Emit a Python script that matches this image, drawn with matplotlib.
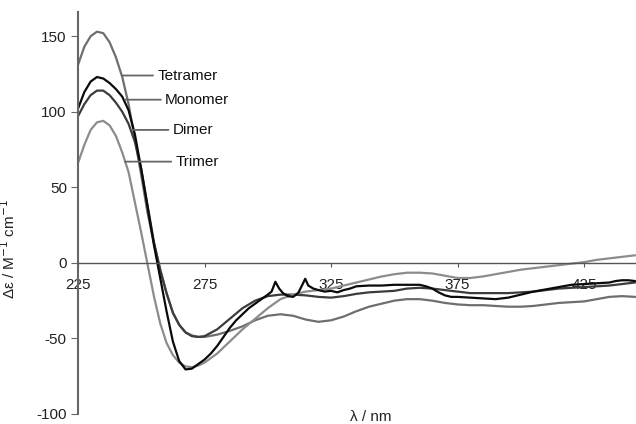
#!/usr/bin/env python3

# CD spectra of the four aggregates.
import matplotlib
matplotlib.use('Agg')
import matplotlib.pyplot as plt

plt.rcParams['font.family'] = ['Liberation Sans', 'DejaVu Sans']
plt.rcParams['axes.unicode_minus'] = False

# Common wavelength grid (nm) for the smooth curves
wl = [225, 227.5, 230, 232.5, 235, 237.5, 240, 242.5, 245, 247.5,
      250, 252.5, 255, 257.5, 260, 262.5, 265, 267.5, 270, 272.5,
      275, 280, 285, 290, 295, 300, 305, 310, 315, 320,
      325, 330, 335, 340, 345, 350, 355, 360, 365, 370,
      375, 380, 385, 390, 395, 400, 405, 410, 415, 420,
      425, 430, 435, 440, 445]

tetramer = [131, 143, 150, 153, 152, 146, 136, 123, 105, 82,
            58, 33, 13, -4, -20, -33, -41, -46, -48, -49,
            -49, -47.5, -45, -42, -38, -35, -34, -35, -37.5, -39,
            -38, -35.5, -32, -29, -27, -25, -24, -24, -25, -26.5,
            -27.5, -28, -28, -28.5, -29, -29, -28.5, -27.5, -26.5, -26,
            -25.5, -24, -22.5, -22, -22.5]

dimer = [97, 105, 111, 114, 114, 111, 106, 100, 92, 80,
         62, 38, 14, -5, -20, -33, -41, -46, -48.5, -49,
         -48.5, -44, -37, -30, -25, -22, -21, -21, -21.5, -22.5,
         -23, -22, -20.5, -19.5, -19, -18.5, -17, -16.5, -17, -18,
         -19, -20, -20, -20, -20, -19.5, -19, -18, -17, -16.5,
         -16, -15.5, -15, -14, -13]

trimer = [66, 78, 88, 93, 94, 91, 84, 73, 60, 40,
          20, -1, -22, -40, -53, -61, -66, -68.5, -69, -68,
          -66, -60, -52, -44, -37, -30, -24, -21, -19, -18,
          -17, -15, -13, -11, -9, -7.5, -6.5, -6.5, -7, -8.5,
          -10, -10, -9, -7.5, -6, -4.5, -3.5, -2.5, -1.5, -0.5,
          0.5, 2, 3, 4, 5]

# Monomer has two sharp spikes near 303 and 315 nm, so it gets its own grid
wl_mono = [225, 227.5, 230, 232.5, 235, 237.5, 240, 242.5, 245, 247.5,
           250, 252.5, 255, 257.5, 260, 262.5, 265, 267.5, 270, 272.5,
           275, 277.5, 280, 282.5, 285, 287.5, 290, 292.5, 295, 297.5,
           300, 301.5, 303, 304.5, 306, 308, 310, 312, 313.5, 314.8,
           316, 318, 320, 322.5, 325, 327.5, 330, 332.5, 335, 340,
           345, 350, 355, 360, 362.5, 365, 367.5, 370, 372.5, 375,
           380, 385, 390, 395, 400, 405, 410, 415, 420, 425,
           430, 435, 437.5, 440, 442.5, 445]

monomer = [102, 113, 120, 123, 122, 119, 115, 110, 101, 85,
           62, 37, 12, -10, -32, -52, -65, -70.5, -70, -67,
           -64, -60, -55, -49, -43, -38, -34, -30, -27, -24,
           -21, -19, -12.5, -17, -20, -22, -22.5, -20, -15, -10.5,
           -15, -17, -18, -19, -18.5, -19.5, -18, -17, -15.5, -15,
           -15, -14.5, -14.5, -14.5, -15.5, -17, -19.5, -21.5, -22.5, -22.5,
           -23, -23.5, -24, -23, -21, -19, -17.5, -16, -14.5, -14,
           -13.5, -13, -12, -11.5, -11.5, -12]

fig = plt.figure(figsize=(6.36, 4.24), dpi=100)
ax = fig.add_axes([0.1226, 0.0236, 0.8774, 0.948])

ax.plot(wl, tetramer, color='#6e6e6e', lw=1.6)
ax.plot(wl, dimer, color='#3c3c3c', lw=1.6)
ax.plot(wl, trimer, color='#8c8c8c', lw=1.6)
ax.plot(wl_mono, monomer, color='#0a0a0a', lw=1.6)

# labels with short leader lines
labels = [('Tetramer', 242.4, 256.3, 124),
          ('Monomer', 243.6, 259.4, 108),
          ('Dimer', 246.3, 262.4, 88),
          ('Trimer', 243.6, 263.5, 67)]
for name, x0, x1, y in labels:
    ax.annotate(name, xy=(x0, y), xytext=(x1, y), va='center', ha='left',
                fontsize=11, color='#111111',
                arrowprops=dict(arrowstyle='-', color='#666666', lw=1.3,
                                shrinkA=1, shrinkB=0))

ax.set_xlim(225, 445.5)
ax.set_ylim(-100, 166)
ax.set_xticks([225, 275, 325, 375, 425])
ax.set_yticks([-100, -50, 0, 50, 100, 150])

ax.spines['top'].set_visible(False)
ax.spines['right'].set_visible(False)
ax.spines['bottom'].set_position(('data', 0))
ax.spines['bottom'].set_color('#555555')
ax.spines['bottom'].set_linewidth(1.0)
ax.spines['left'].set_color('#666666')
ax.spines['left'].set_linewidth(1.5)

ax.tick_params(axis='x', direction='out', length=3, pad=8, labelsize=11,
               color='#555555', labelcolor='#222222')
ax.tick_params(axis='y', direction='out', length=5, pad=3, labelsize=11,
               color='#666666', labelcolor='#222222')

ax.set_xlabel('λ / nm', fontsize=11, color='#222222')
ax.xaxis.set_label_coords(0.525, 0.01)
ax.set_ylabel('Δε / M$^{-1}$ cm$^{-1}$', fontsize=11, color='#222222')
ax.yaxis.set_label_coords(-0.1075, 0.41)

fig.savefig('out.png', dpi=100)
